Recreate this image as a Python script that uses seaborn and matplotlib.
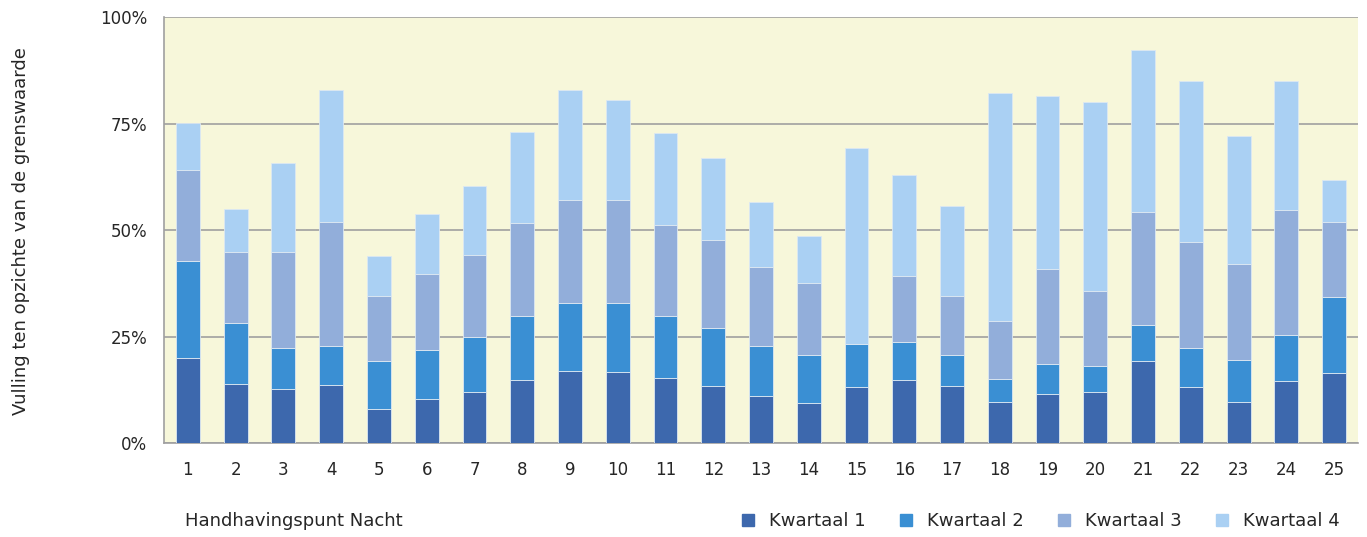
import numpy as np
import pandas as pd
import matplotlib
matplotlib.use("Agg")
import matplotlib.pyplot as plt
from matplotlib.lines import Line2D
import seaborn as sns

# data (share of limit value, percent, per quarter)
punten = [str(i) for i in range(1, 26)]
kwartaal_1 = [20.1, 14.0, 12.7, 13.6, 8.0, 10.3, 12.1, 14.9, 16.9, 16.7, 15.4, 13.5, 11.0,
              9.4, 13.1, 14.8, 13.5, 9.8, 11.5, 12.1, 19.3, 13.3, 9.6, 14.7, 16.6]
kwartaal_2 = [22.7, 14.2, 9.7, 9.3, 11.4, 11.7, 12.8, 14.9, 16.0, 16.2, 14.4, 13.6, 11.8,
              11.4, 10.2, 8.9, 7.3, 5.3, 7.0, 6.0, 8.5, 9.1, 9.9, 10.7, 17.8]
kwartaal_3 = [21.4, 16.8, 22.6, 29.1, 15.2, 17.8, 19.4, 22.0, 24.3, 24.3, 21.5, 20.7, 18.6,
              16.9, 0.0, 15.5, 13.8, 13.6, 22.5, 17.6, 26.5, 24.9, 22.6, 29.3, 17.5]
kwartaal_4 = [10.9, 10.1, 20.7, 30.9, 9.3, 14.0, 16.1, 21.3, 25.7, 23.4, 21.5, 19.1, 15.2,
              10.9, 46.0, 23.7, 21.0, 53.6, 40.5, 44.4, 38.0, 37.8, 30.0, 30.4, 10.0]
series = ["Kwartaal 1", "Kwartaal 2", "Kwartaal 3", "Kwartaal 4"]
kleuren = ["#3D68AD", "#3A8FD3", "#92AEDA", "#AAD0F3"]

df = pd.DataFrame({"punt": punten, "Kwartaal 1": kwartaal_1, "Kwartaal 2": kwartaal_2,
                   "Kwartaal 3": kwartaal_3, "Kwartaal 4": kwartaal_4})

sns.set_style("white")
plt.rcParams["font.family"] = ["DejaVu Sans"]

fig = plt.figure(figsize=(13.67, 5.37), dpi=100)
ax = fig.add_axes([0.12, 0.1745, 0.8734, 0.7935])
ax.set_facecolor("#F7F7DA")

bottom = np.zeros(len(punten))
for s, c in zip(series, kleuren):
    sns.barplot(data=df, x="punt", y=s, color=c, width=0.5, bottom=bottom,
                edgecolor="#DDE8F2", linewidth=0.6, saturation=1, ax=ax, zorder=3)
    bottom = bottom + df[s].values

ax.set_ylim(0, 100)
ax.set_xlim(-0.5, len(punten) - 0.5)
ax.set_yticks([0, 25, 50, 75, 100])
ax.set_yticklabels(["0%", "25%", "50%", "75%", "100%"], fontsize=12)
ax.grid(axis="y", color="#A0A0A0", linewidth=1.2, zorder=1)
ax.set_axisbelow(True)

ax.set_xticks(range(len(punten)))
ax.set_xticklabels(punten, fontsize=12)
ax.set_xticks(np.arange(-0.5, len(punten)), minor=True)
ax.tick_params(axis="x", which="major", length=0, pad=13)
ax.tick_params(axis="x", which="minor", length=6, color="#A0A0A0", width=1.2)
ax.tick_params(axis="y", length=4, color="#A0A0A0", width=1.2, pad=8)

for side in ["top", "right"]:
    ax.spines[side].set_visible(False)
for side in ["left", "bottom"]:
    ax.spines[side].set_color("#A0A0A0")
    ax.spines[side].set_linewidth(1.2)

ax.set_xlabel("")
ax.set_ylabel("")
fig.text(0.015, 0.57, "Vulling ten opzichte van de grenswaarde", rotation=90,
         ha="center", va="center", fontsize=13)
fig.text(0.135, 0.03, "Handhavingspunt Nacht", ha="left", va="center", fontsize=13)

handles = [Line2D([], [], marker="s", linestyle="", markersize=9, color=c) for c in kleuren]
fig.legend(handles, series, loc="center right", bbox_to_anchor=(0.992, 0.03), ncol=4,
           frameon=False, fontsize=13, handletextpad=0.55, columnspacing=1.65,
           handlelength=1.2)

fig.savefig("out.png", dpi=100)
